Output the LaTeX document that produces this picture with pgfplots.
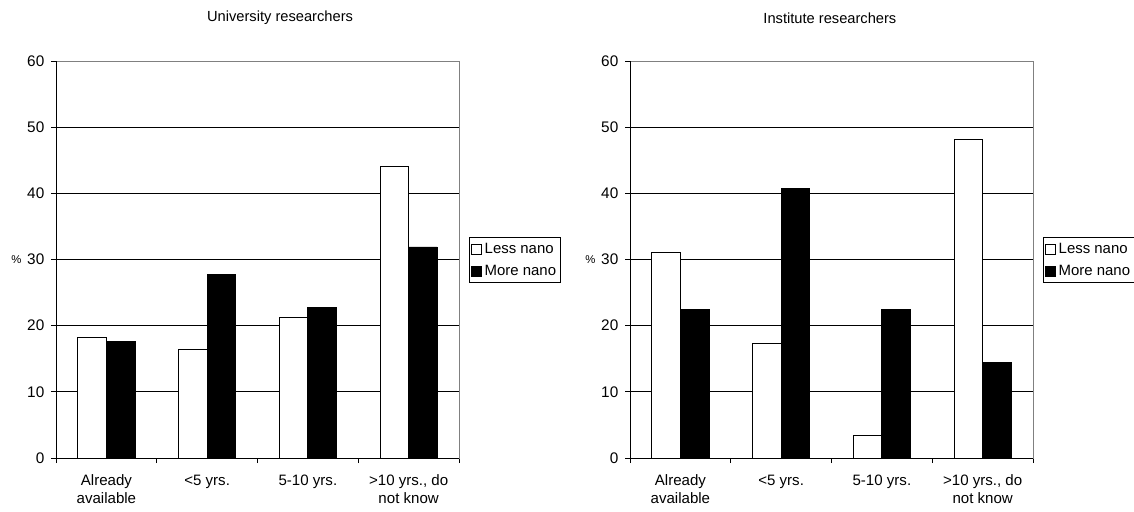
\documentclass[border=0pt]{standalone}
\usepackage{fontspec}
\setmainfont{Liberation Sans}
\usepackage{pgfplots}
\usepackage{pgfplotstable}
\pgfplotsset{compat=1.18}

\pgfplotstableread{
x less more
0 18.2 17.6
1 16.4 27.8
2 21.3 22.7
3 44.0 31.9
}\univ
\pgfplotstableread{
x less more
0 31.1 22.4
1 17.3 40.8
2 3.4 22.4
3 48.2 14.4
}\inst

\pgfplotsset{
  sqlegend/.style={legend image code/.code={\draw[##1,line width=0.5pt] (0pt,-3.75pt) rectangle (7.5pt,3.75pt);}},
  mystyle/.style={
    scale only axis, width=302.25pt, height=297.75pt,
    ybar=0pt, bar width=21.4pt,
    xmin=-0.5, xmax=3.5, ymin=0, ymax=60,
    ytick={0,10,...,60},
    xtick={-0.5,0.5,1.5,2.5,3.5},
    xticklabels={{Already\\available},{<5 yrs.},{5-10 yrs.},{>10 yrs., do\\not know},{}},
    xticklabel style={xshift=37.8pt, yshift=-5.5pt, align=center, font=\fontsize{11.3}{13.5}\selectfont},
    yticklabel style={xshift=-1.5pt, font=\fontsize{11.5}{13}\selectfont, /pgf/number format/assume math mode=true},
    tick align=outside, tick pos=left,
    major tick length=3.75pt,
    tick style={black, line width=0.6pt},
    ymajorgrids, grid style={black, line width=0.6pt},
    axis line style={draw=gray, line width=0.75pt},
    ylabel={\%},
    ylabel style={at={(axis description cs:-0.098,0.5)}, rotate=-90, anchor=center, font=\fontsize{8.5}{9}\selectfont},
    title style={anchor=center, font=\fontsize{11}{12}\selectfont},
    legend style={at={(axis description cs:1.0248,0.556)}, anchor=north west,
      draw=black, line width=0.6pt, font=\fontsize{11.2}{12}\selectfont,
      legend cell align=left, row sep=3.5pt, inner xsep=1.5pt, inner ysep=2pt},
    after end axis/.code={\draw[black, line width=0.75pt] (rel axis cs:0,1) -- (rel axis cs:0,0) -- (rel axis cs:1,0);},
  }
}

\begin{document}
\begin{tikzpicture}
\useasboundingbox (0,0) rectangle (850.5pt,383.25pt);
\begin{axis}[mystyle, at={(42pt,39.75pt)}, anchor=south west,
  title={University researchers}, title style={at={(axis description cs:0.556,1.088)}}]
\addplot[fill=white, draw=black, line width=0.6pt, bar shift=-10.7pt, sqlegend] table[x=x,y=less] {\univ};
\addplot[fill=black, draw=black, line width=0.6pt, bar shift=10.7pt, sqlegend] table[x=x,y=more] {\univ};
\legend{Less nano, More nano}
\end{axis}
\begin{axis}[mystyle, at={(472.5pt,39.75pt)}, anchor=south west,
  title={Institute researchers}, title style={at={(axis description cs:0.496,1.088)}}]
\addplot[fill=white, draw=black, line width=0.6pt, bar shift=-10.7pt, sqlegend] table[x=x,y=less] {\inst};
\addplot[fill=black, draw=black, line width=0.6pt, bar shift=10.7pt, sqlegend] table[x=x,y=more] {\inst};
\legend{Less nano, More nano}
\end{axis}
\end{tikzpicture}
\end{document}
